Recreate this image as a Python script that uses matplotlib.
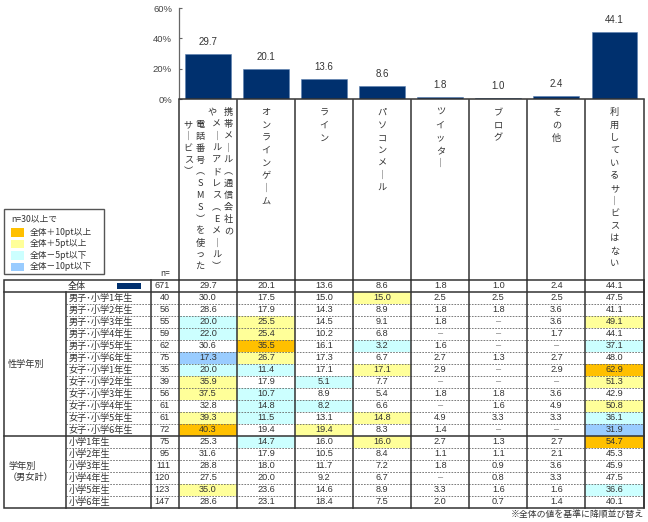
import matplotlib
matplotlib.use("Agg")
import matplotlib.pyplot as plt
from matplotlib.patches import Rectangle

plt.rcParams['font.family'] = ['Noto Sans CJK JP', 'DejaVu Sans']

# ---------------- data ----------------
categories = ["携帯メール（通信会社のメールアドレス（Eメール））や電話番号（SMS）を使ったサービス",
              "オンラインゲーム", "ライン", "パソコンメール", "ツイッター", "ブログ", "その他",
              "利用しているサービスはない"]
overall_n = 671
overall = [29.7, 20.1, 13.6, 8.6, 1.8, 1.0, 2.4, 44.1]

group_labels = ["性学年別", "学年別\n（男女計）"]
row_labels = ["男子･小学1年生", "男子･小学2年生", "男子･小学3年生", "男子･小学4年生",
              "男子･小学5年生", "男子･小学6年生", "女子･小学1年生", "女子･小学2年生",
              "女子･小学3年生", "女子･小学4年生", "女子･小学5年生", "女子･小学6年生",
              "小学1年生", "小学2年生", "小学3年生", "小学4年生", "小学5年生", "小学6年生"]
row_group = [0]*12 + [1]*6
row_n = [40, 56, 55, 59, 62, 75, 35, 39, 56, 61, 61, 72, 75, 95, 111, 120, 123, 147]
N = None
row_values = [
    [30.0, 17.5, 15.0, 15.0, 2.5, 2.5, 2.5, 47.5],
    [28.6, 17.9, 14.3, 8.9, 1.8, 1.8, 3.6, 41.1],
    [20.0, 25.5, 14.5, 9.1, 1.8, N, 3.6, 49.1],
    [22.0, 25.4, 10.2, 6.8, N, N, 1.7, 44.1],
    [30.6, 35.5, 16.1, 3.2, 1.6, N, N, 37.1],
    [17.3, 26.7, 17.3, 6.7, 2.7, 1.3, 2.7, 48.0],
    [20.0, 11.4, 17.1, 17.1, 2.9, N, 2.9, 62.9],
    [35.9, 17.9, 5.1, 7.7, N, N, N, 51.3],
    [37.5, 10.7, 8.9, 5.4, 1.8, 1.8, 3.6, 42.9],
    [32.8, 14.8, 8.2, 6.6, N, 1.6, 4.9, 50.8],
    [39.3, 11.5, 13.1, 14.8, 4.9, 3.3, 3.3, 36.1],
    [40.3, 19.4, 19.4, 8.3, 1.4, N, N, 31.9],
    [25.3, 14.7, 16.0, 16.0, 2.7, 1.3, 2.7, 54.7],
    [31.6, 17.9, 10.5, 8.4, 1.1, 1.1, 2.1, 45.3],
    [28.8, 18.0, 11.7, 7.2, 1.8, 0.9, 3.6, 45.9],
    [27.5, 20.0, 9.2, 6.7, N, 0.8, 3.3, 47.5],
    [35.0, 23.6, 14.6, 8.9, 3.3, 1.6, 1.6, 36.6],
    [28.6, 23.1, 18.4, 7.5, 2.0, 0.7, 1.4, 40.1],
]
legend_title = "n=30以上で"
legend_labels = ["全体＋10pt以上", "全体＋5pt以上", "全体－5pt以下", "全体－10pt以下"]
yticks = [0, 20, 40, 60]
ytick_labels = ["0%", "20%", "40%", "60%"]
footnote = "※全体の値を基準に降順並び替え"

# ---------------- style ----------------
NAVY = "#00306e"
C_P10, C_P5, C_M5, C_M10 = "#ffc000", "#ffff99", "#ccffff", "#99ccff"
TXT = "#333333"
LINE = "#333333"
NUMFONT = ['Liberation Sans', 'DejaVu Sans']
W, H = 648, 522

fig = plt.figure(figsize=(W/100, H/100), dpi=100)

# overlay axes in pixel coordinates
ov = fig.add_axes([0, 0, 1, 1])
ov.set_xlim(0, W)
ov.set_ylim(H, 0)
ov.axis('off')

# geometry (px)
tbl_left, grp_right, lab_right = 4, 65.7, 150.7
col0, col_end = 179.0, 643.5
ncol = len(categories)
cw = (col_end - col0) / ncol
tbl_top, rh = 280.0, 12.0
hdr_top = 99.5


def col_left(j):
    return col0 + j * cw


def cell_color(v, base, n):
    if v is None or n < 30:
        return None
    d = v - base
    if d >= 10:
        return C_P10
    if d >= 5:
        return C_P5
    if d <= -10:
        return C_M10
    if d <= -5:
        return C_M5
    return None


# ---------------- bar chart ----------------
ax = fig.add_axes([col0/W, 1 - hdr_top/H, (col_end-col0)/W, (hdr_top-8)/H])
ax.patch.set_alpha(0)
xs = list(range(ncol))
ax.bar(xs, overall, width=0.79, color=NAVY, edgecolor="#5a7fb0", linewidth=0.4)
ax.set_xlim(-0.5, ncol - 0.5)
ax.set_ylim(0, 60)
ax.set_yticks(yticks)
ax.set_yticklabels(ytick_labels, fontsize=6.8, color="#444444", family=NUMFONT)
ax.tick_params(axis='y', direction='in', length=2, pad=5, color="#666666")
ax.set_xticks([])
for s in ['top', 'right']:
    ax.spines[s].set_visible(False)
ax.spines['left'].set_color("#666666")
ax.spines['left'].set_linewidth(0.9)
ax.spines['bottom'].set_color(LINE)
ax.spines['bottom'].set_linewidth(1.1)
for x, v in zip(xs, overall):
    ax.annotate(f"{v:.1f}", (x, v), xytext=(0, 5), textcoords='offset points',
                ha='center', va='bottom', fontsize=7, color=TXT, family=NUMFONT)

# ---------------- header (vertical labels) ----------------
VERT = {"ー": "｜", "（": "︵", "）": "︶"}


def vtext(x, y0, s, pitch, start=0):
    for i, ch in enumerate(s):
        ov.text(x, y0 + (start + i) * pitch, VERT.get(ch, ch), ha='center', va='center',
                fontsize=6.6, color=TXT)


for j in range(ncol + 1):
    ov.plot([col_left(j)] * 2, [hdr_top, tbl_top], color=LINE, lw=1.1)

y0 = 112.7
p1 = 11.85
c0 = col_left(0)
vtext(c0 + 49.3, y0, "携帯メール（通信会社の", p1)
vtext(c0 + 33.3, y0, "や", p1)
vtext(c0 + 37.7, y0, "メールアドレス（Eメール）", p1, start=1)
vtext(c0 + 21.0, y0, "電話番号（SMS）を使った", p1, start=1)
vtext(c0 + 9.3, y0, "サービス）", p1, start=1)
for j in range(1, ncol):
    vtext(col_left(j) + cw/2, y0, categories[j], 12.6)

ov.text(165, 273, "n=", ha='center', va='center', fontsize=6, color=TXT)

# ---------------- legend ----------------
ov.add_patch(Rectangle((4, 209.3), 100, 65, fill=False, edgecolor="#555555", lw=1))
ov.text(11, 219, legend_title, ha='left', va='center', fontsize=6.3, color=TXT)
for k, (c, lab) in enumerate(zip([C_P10, C_P5, C_M5, C_M10], legend_labels)):
    yc = 232.3 + k * 11.5
    ov.add_patch(Rectangle((10.7, yc - 4.3), 13.3, 8.6, facecolor=c, edgecolor='none'))
    ov.text(30, yc, lab, ha='left', va='center', fontsize=6.3, color=TXT)

# ---------------- table ----------------
yc = tbl_top + rh/2
ov.text(77, yc, "全体", ha='center', va='center', fontsize=6.5, color=TXT)
ov.add_patch(Rectangle((116.7, yc - 3), 24, 6, facecolor=NAVY, edgecolor='none'))
ov.text(170, yc, str(overall_n), ha='right', va='center', fontsize=6.6, color=TXT, family=NUMFONT)
for j, v in enumerate(overall):
    ov.text(col_left(j) + cw/2, yc, f"{v:.1f}", ha='center', va='center',
            fontsize=6.6, color=TXT, family=NUMFONT)

body_top = tbl_top + rh
for i, (lab, n, vals) in enumerate(zip(row_labels, row_n, row_values)):
    top = body_top + i * rh
    yc = top + rh/2
    ov.text(68.5, yc, lab, ha='left', va='center', fontsize=6.6, color=TXT)
    ov.text(170, yc, str(n), ha='right', va='center', fontsize=6.6, color=TXT, family=NUMFONT)
    for j, v in enumerate(vals):
        c = cell_color(v, overall[j], n)
        if c:
            ov.add_patch(Rectangle((col_left(j), top), cw, rh, facecolor=c, edgecolor='none', zorder=0.5))
        s = "–" if v is None else f"{v:.1f}"
        ov.text(col_left(j) + cw/2, yc, s, ha='center', va='center',
                fontsize=6.6, color=TXT if v is not None else "#777777", family=NUMFONT)

# group labels
n_rows = len(row_labels)
for g in sorted(set(row_group)):
    idx = [i for i, gg in enumerate(row_group) if gg == g]
    gtop = body_top + idx[0] * rh
    gbot = body_top + (idx[-1] + 1) * rh
    lines = group_labels[g].split("\n")
    mid = (gtop + gbot) / 2
    for k, t in enumerate(lines):
        ov.text(8, mid + (k - (len(lines) - 1) / 2) * 11.7, t, ha='left', va='center',
                fontsize=6.6, color=TXT)

# lines
bottom = body_top + n_rows * rh
for i in range(1, n_rows):
    y = body_top + i * rh
    if row_group[i] != row_group[i-1]:
        ov.plot([tbl_left, col_end], [y, y], color=LINE, lw=1.1)
    else:
        ov.plot([grp_right, col_end], [y, y], color="#666666", lw=0.6, ls=(0, (2, 1.5)))
ov.plot([tbl_left, col_end], [body_top, body_top], color=LINE, lw=1.1)
ov.add_patch(Rectangle((tbl_left, tbl_top), col_end - tbl_left, bottom - tbl_top,
                       fill=False, edgecolor=LINE, lw=1.1))
ov.plot([grp_right] * 2, [body_top, bottom], color=LINE, lw=1.1)
ov.plot([lab_right] * 2, [tbl_top, bottom], color=LINE, lw=1.1)
for j in range(ncol + 1):
    ov.plot([col_left(j)] * 2, [tbl_top, bottom], color=LINE, lw=1.1)

ov.text(col_end, 514, footnote, ha='right', va='center', fontsize=6.4, color=TXT)

fig.savefig("out.png", dpi=100)
